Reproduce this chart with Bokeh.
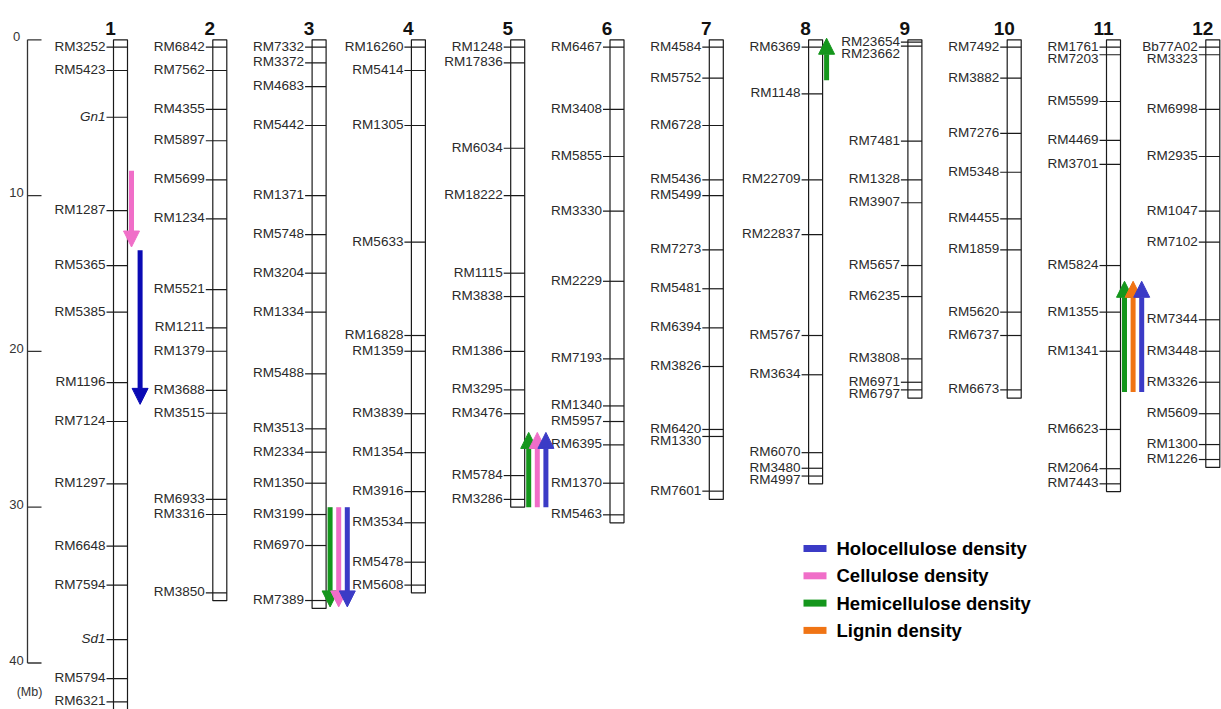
from bokeh.plotting import figure
from bokeh.models import Range1d, Arrow, NormalHead
from bokeh.embed import file_html
from bokeh.resources import INLINE
from bokeh.core.properties import value

# ---------------- data ----------------
chromosomes = ["1", "2", "3", "4", "5", "6", "7", "8", "9", "10", "11", "12"]
chrom_lengths = [43.0, 36.0, 36.5, 35.5, 30.0, 31.0, 29.5, 28.5, 23.0, 23.0, 29.0, 27.45]

c1_markers = ["RM3252", "RM5423", "Gn1", "RM1287", "RM5365", "RM5385", "RM1196", "RM7124",
              "RM1297", "RM6648", "RM7594", "Sd1", "RM5794", "RM6321"]
c1_pos = [0.47, 1.97, 4.97, 10.96, 14.49, 17.48, 22.0, 24.5, 28.5, 32.5, 35.0, 38.5, 41.0, 42.5]

c2_markers = ["RM6842", "RM7562", "RM4355", "RM5897", "RM5699", "RM1234", "RM5521", "RM1211",
              "RM1379", "RM3688", "RM3515", "RM6933", "RM3316", "RM3850"]
c2_pos = [0.47, 1.97, 4.47, 6.48, 8.99, 11.49, 16.03, 18.49, 19.99, 22.5, 23.97, 29.5, 30.47, 35.5]

c3_markers = ["RM7332", "RM3372", "RM4683", "RM5442", "RM1371", "RM5748", "RM3204", "RM1334",
              "RM5488", "RM3513", "RM2334", "RM1350", "RM3199", "RM6970", "RM7389"]
c3_pos = [0.47, 1.48, 3.0, 5.5, 10.0, 12.5, 14.98, 17.48, 21.44, 24.97, 26.47, 28.46, 30.47, 32.46, 35.99]

c4_markers = ["RM16260", "RM5414", "RM1305", "RM5633", "RM16828", "RM1359", "RM3839", "RM1354",
              "RM3916", "RM3534", "RM5478", "RM5608"]
c4_pos = [0.47, 1.97, 5.5, 12.99, 18.98, 19.99, 24.0, 26.5, 29.0, 31.0, 33.53, 35.0]

c5_markers = ["RM1248", "RM17836", "RM6034", "RM18222", "RM1115", "RM3838", "RM1386", "RM3295",
              "RM3476", "RM5784", "RM3286"]
c5_pos = [0.47, 1.48, 6.96, 10.0, 14.98, 16.48, 20.0, 22.47, 24.0, 27.97, 29.5]

c6_markers = ["RM6467", "RM3408", "RM5855", "RM3330", "RM2229", "RM7193", "RM1340", "RM5957",
              "RM6395", "RM1370", "RM5463"]
c6_pos = [0.47, 4.47, 7.49, 11.0, 15.5, 20.48, 23.5, 24.5, 26.0, 28.46, 30.49]

c7_markers = ["RM4584", "RM5752", "RM6728", "RM5436", "RM5499", "RM7273", "RM5481", "RM6394",
              "RM3826", "RM6420", "RM1330", "RM7601"]
c7_pos = [0.47, 2.46, 5.5, 8.99, 10.0, 13.48, 15.98, 18.49, 20.97, 25.01, 25.46, 28.97]

c8_markers = ["RM6369", "RM1148", "RM22709", "RM22837", "RM5767", "RM3634", "RM6070", "RM3480", "RM4997"]
c8_pos = [0.47, 3.47, 8.99, 12.5, 18.98, 21.5, 26.5, 27.5, 28.0]

c9_markers = ["RM23654", "RM23662", "RM7481", "RM1328", "RM3907", "RM5657", "RM6235", "RM3808",
              "RM6971", "RM6797"]
c9_pos = [0.15, 0.41, 6.5, 8.99, 10.46, 14.49, 16.48, 20.48, 21.98, 22.47]

c10_markers = ["RM7492", "RM3882", "RM7276", "RM5348", "RM4455", "RM1859", "RM5620", "RM6737", "RM6673"]
c10_pos = [0.47, 2.46, 6.0, 8.5, 11.49, 13.48, 17.48, 18.98, 22.47]

c11_markers = ["RM1761", "RM7203", "RM5599", "RM4469", "RM3701", "RM5824", "RM1355", "RM1341",
               "RM6623", "RM2064", "RM7443"]
c11_pos = [0.47, 0.96, 3.96, 6.46, 8.0, 14.49, 17.48, 19.99, 25.01, 27.53, 28.5]

c12_markers = ["Bb77A02", "RM3323", "RM6998", "RM2935", "RM1047", "RM7102", "RM7344", "RM3448",
               "RM3326", "RM5609", "RM1300", "RM1226"]
c12_pos = [0.47, 0.96, 4.47, 7.49, 11.0, 12.99, 17.97, 19.99, 21.98, 24.0, 25.98, 26.94]

genes = ["Gn1", "Sd1"]

qtl_chrom = ["1", "1", "3", "3", "3", "5", "5", "5", "8", "11", "11", "11"]
qtl_trait = ["Cellulose", "Holocellulose",
             "Hemicellulose", "Cellulose", "Holocellulose",
             "Hemicellulose", "Cellulose", "Holocellulose",
             "Hemicellulose",
             "Hemicellulose", "Lignin", "Holocellulose"]
qtl_from = [8.4, 13.5, 30.0, 30.0, 30.0, 30.0, 30.0, 30.0, 2.6, 22.6, 22.6, 22.6]
qtl_to = [13.3, 23.4, 36.4, 36.4, 36.4, 25.2, 25.2, 25.2, -0.1, 15.5, 15.5, 15.5]

legend_traits = ["Holocellulose", "Cellulose", "Hemicellulose", "Lignin"]
legend_labels = ["Holocellulose density", "Cellulose density", "Hemicellulose density", "Lignin density"]

scale_ticks = [0, 10, 20, 30, 40]
scale_unit = "(Mb)"

all_markers = [c1_markers, c2_markers, c3_markers, c4_markers, c5_markers, c6_markers,
               c7_markers, c8_markers, c9_markers, c10_markers, c11_markers, c12_markers]
all_pos = [c1_pos, c2_pos, c3_pos, c4_pos, c5_pos, c6_pos,
           c7_pos, c8_pos, c9_pos, c10_pos, c11_pos, c12_pos]

# ---------------- layout / style ----------------
W, H = 1221, 709
PX_PER_MB = 15.58
Y0 = 39.3          # pixel row of 0 Mb
X1 = 120.0         # pixel x of chromosome 1 centre
DX = 99.3          # spacing between chromosomes
BOX_W = 14.0
TICK_OUT = 7.0
FONT = "Liberation Sans"
TRAIT_COLOR = {"Holocellulose": "#3b3bc6", "Cellulose": "#f06ec8",
               "Hemicellulose": "#14961c", "Lignin": "#f07414"}
DARK_HOLO = "#0a0ab4"


def mb(py):
    return (py - Y0) / PX_PER_MB


p = figure(width=W, height=H, x_range=Range1d(0, W), y_range=Range1d(mb(H), mb(0)),
           output_backend="svg", toolbar_location=None, min_border=0,
           x_axis_location=None, y_axis_location=None)
p.grid.visible = False
p.outline_line_color = None
p.background_fill_color = "white"
p.border_fill_color = "white"

# ---------------- chromosomes ----------------
box_l, box_r, box_t, box_b = [], [], [], []
seg_x0, seg_x1, seg_y = [], [], []
lab_x, lab_y, lab_t, lab_style = [], [], [], []
num_x, num_y, num_t = [], [], []
centers = {}
gap = 12.0 / PX_PER_MB
for i, (name, L, mk, ps) in enumerate(zip(chromosomes, chrom_lengths, all_markers, all_pos)):
    cx = X1 + DX * i
    centers[name] = cx
    left, right = cx - BOX_W / 2, cx + BOX_W / 2
    box_l.append(left); box_r.append(right); box_t.append(0.0); box_b.append(L)
    prev = None
    for m, y in zip(mk, ps):
        seg_x0.append(left - TICK_OUT); seg_x1.append(right); seg_y.append(y)
        ly = y if prev is None else max(y, prev + gap)
        prev = ly
        lab_x.append(left - TICK_OUT - 1); lab_y.append(ly); lab_t.append(m)
        lab_style.append("italic" if m in genes else "normal")
    num_x.append(cx - 10); num_y.append(mb(28)); num_t.append(name)

p.quad(left=box_l, right=box_r, top=box_t, bottom=box_b, fill_color="white",
       line_color="#1a1a1a", line_width=1.2)
p.segment(x0=seg_x0, y0=seg_y, x1=seg_x1, y1=seg_y, line_color="#1a1a1a", line_width=1.2)
p.text(x=lab_x, y=lab_y, text=lab_t, text_align="right", text_baseline="alphabetic",
       text_font=value(FONT), text_font_size="13.5px", text_color="#2a2a2a",
       text_font_style=lab_style, y_offset=-1)
p.text(x=num_x, y=num_y, text=num_t, text_align="center", text_baseline="alphabetic",
       text_font=value(FONT), text_font_size="19px", text_font_style="bold", text_color="#111111")

# ---------------- scale bar ----------------
SB_X = 27.0
p.segment(x0=[SB_X], y0=[scale_ticks[0]], x1=[SB_X], y1=[scale_ticks[-1]], line_color="#333333", line_width=1.3)
p.segment(x0=[SB_X] * len(scale_ticks), y0=scale_ticks, x1=[SB_X + 14] * len(scale_ticks), y1=scale_ticks,
          line_color="#333333", line_width=1.3)
p.text(x=[16] * len(scale_ticks), y=[t - 3 / PX_PER_MB for t in scale_ticks], text=[str(t) for t in scale_ticks],
       text_align="center", text_baseline="alphabetic", text_font=value(FONT), text_font_size="13px",
       text_color="#333333")
p.text(x=[29], y=[mb(691)], text=[scale_unit], text_align="center", text_baseline="alphabetic",
       text_font=value(FONT), text_font_size="12.5px", text_color="#333333")

# ---------------- QTL arrows ----------------
slot = {}
for c, t, y0, y1 in zip(qtl_chrom, qtl_trait, qtl_from, qtl_to):
    k = slot.get(c, 0)
    slot[c] = k + 1
    x = centers[c] + 11.0 + 8.6 * k
    col = TRAIT_COLOR[t]
    if c == "1" and t == "Holocellulose":
        col = DARK_HOLO
    p.add_layout(Arrow(x_start=x, y_start=y0, x_end=x, y_end=y1, line_color=col, line_width=5,
                       end=NormalHead(size=16, fill_color=col, line_color=col, line_width=1)))

# ---------------- legend ----------------
for j, (t, lab) in enumerate(zip(legend_traits, legend_labels)):
    yy = mb(548 + 27.3 * j)
    p.segment(x0=[803], y0=[yy], x1=[826], y1=[yy], line_color=TRAIT_COLOR[t], line_width=7)
    p.text(x=[836], y=[yy], text=[lab], text_align="left", text_baseline="middle",
           text_font=value(FONT), text_font_size="18.5px", text_font_style="bold", text_color="#000000")

open("out.html", "w").write(file_html(p, INLINE))
